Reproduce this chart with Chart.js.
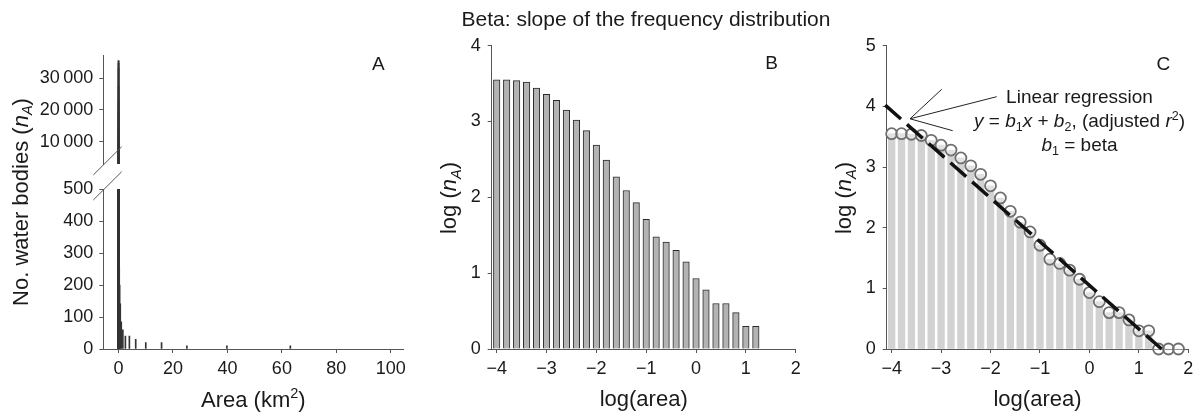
<!DOCTYPE html>
<html><head><meta charset="utf-8">
<script src="https://cdn.jsdelivr.net/npm/chart.js@4.4.1/dist/chart.umd.min.js"></script>
<style>
html,body{margin:0;padding:0;background:#fff;width:1200px;height:413px;overflow:hidden}
canvas{position:absolute;left:0;top:0}
</style></head><body>
<canvas id="cAU" width="1200" height="413"></canvas>
<canvas id="cAL" width="1200" height="413"></canvas>
<canvas id="cB" width="1200" height="413"></canvas>
<canvas id="cC" width="1200" height="413"></canvas>
<script>
// ---------- DATA ----------
// Panel A: water body area (km2) and number of water bodies
const areaA  = [0.0001,0.00016,0.00025,0.0004,0.00063,0.001,0.0016,0.0025,0.004,0.0063,0.01,0.016,0.025,0.04,0.063,0.1,0.16,0.25,0.4,0.63,1.0,1.58,2.51,3.98,6.31,10.0,15.8,25.1,39.8,63.1];
const countA = [35500,35500,34700,33100,27500,22900,19100,14100,10500,7600,4900,3100,1860,1230,850,513,302,257,200,141,85,60,40,40,30,20,20,10,10,10];
// Panel B: log(area) bins and log(nA)
const bLogArea  = [-4.0,-3.8,-3.6,-3.4,-3.2,-3.0,-2.8,-2.6,-2.4,-2.2,-2.0,-1.8,-1.6,-1.4,-1.2,-1.0,-0.8,-0.6,-0.4,-0.2,0.0,0.2,0.4,0.6,0.8,1.0,1.2];
const bLogCount = [3.55,3.55,3.54,3.52,3.44,3.36,3.28,3.15,3.02,2.88,2.69,2.49,2.27,2.09,1.93,1.71,1.48,1.41,1.30,1.15,0.93,0.78,0.60,0.60,0.48,0.30,0.30];
// Panel C: same bins incl. empty bins, and regression line end points
const cLogArea  = [-4.0,-3.8,-3.6,-3.4,-3.2,-3.0,-2.8,-2.6,-2.4,-2.2,-2.0,-1.8,-1.6,-1.4,-1.2,-1.0,-0.8,-0.6,-0.4,-0.2,0.0,0.2,0.4,0.6,0.8,1.0,1.2,1.4,1.6,1.8];
const cLogCount = [3.55,3.55,3.54,3.52,3.44,3.36,3.28,3.15,3.02,2.88,2.69,2.49,2.27,2.09,1.93,1.71,1.48,1.41,1.30,1.15,0.93,0.78,0.60,0.60,0.48,0.30,0.30,0,0,0];
const regLogArea  = [-4.13, 1.46];
const regLogCount = [4.02, 0.0];
// Tick values
const aXTicks    = [0,20,40,60,80,100];
const aLowTicks  = [0,100,200,300,400,500];
const aHighTicks = [10000,20000,30000];
const logAreaTicks = [-4,-3,-2,-1,0,1,2];
const bYTicks = [0,1,2,3,4];
const cYTicks = [0,1,2,3,4,5];

// ---------- STYLE ----------
const FF = '"Liberation Sans", Arial, Helvetica, sans-serif';
const AX = '#555';
const TXT = '#1a1a1a';
const TICK_SIZE = 18;

const minus = v => (v < 0 ? '\u2212' + Math.abs(v) : String(v));
const thousands = v => (v >= 1000 ? Math.floor(v/1000) + '\u2009' + String(v % 1000).padStart(3,'0') : String(v));

function pts(xs, ys){ return xs.map((x,i)=>({x:x, y:ys[i]})); }

function xScale(min, max, ticks, fmt, show){
  return {
    type:'linear', min:min, max:max, offset:false, display: show,
    afterBuildTicks: s => { s.ticks = ticks.map(v=>({value:v})); },
    afterFit: s => { s.height = show ? 40 : 0; },
    grid:{display:true, drawOnChartArea:false, drawTicks:true, tickLength:4, color:AX, offset:false, lineWidth:1},
    border:{display:true, color:AX, width:1},
    ticks:{font:{family:FF, size:TICK_SIZE}, color:TXT, padding:5, maxRotation:0, autoSkip:false, callback: v => fmt(v)}
  };
}
function yScale(min, max, ticks, fmt, pad, w){
  return {
    type:'linear', min:min, max:max,
    afterBuildTicks: s => { s.ticks = ticks.map(v=>({value:v})); },
    afterFit: s => { s.width = w; },
    grid:{display:true, drawOnChartArea:false, drawTicks:true, tickLength:4, color:AX, lineWidth:1},
    border:{display:true, color:AX, width:1},
    ticks:{font:{family:FF, size:TICK_SIZE}, color:TXT, padding:pad, autoSkip:false, callback: v => fmt(v)}
  };
}
function baseOpts(padding, scales){
  return {
    responsive:false, animation:false, devicePixelRatio:1, events:[],
    layout:{padding:padding},
    plugins:{legend:{display:false}, tooltip:{enabled:false}, title:{display:false}},
    scales:scales
  };
}

// rich text: parts = [{t, i, sub, sup}]
function drawRich(ctx, parts, x, y, size, align, rot){
  ctx.save();
  ctx.translate(x, y);
  if (rot) ctx.rotate(rot);
  const fontFor = p => (p.i ? 'italic ' : '') + ((p.sub||p.sup) ? size*0.66 : size) + 'px ' + FF;
  let total = 0;
  parts.forEach(p => { ctx.font = fontFor(p); total += ctx.measureText(p.t).width; });
  let cx = align === 'center' ? -total/2 : (align === 'right' ? -total : 0);
  ctx.textBaseline = 'alphabetic'; ctx.textAlign = 'left'; ctx.fillStyle = TXT;
  parts.forEach(p => {
    ctx.font = fontFor(p);
    const dy = p.sub ? size*0.22 : (p.sup ? -size*0.38 : 0);
    ctx.fillText(p.t, cx, dy);
    cx += ctx.measureText(p.t).width;
  });
  ctx.restore();
}
const nA = [{t:'n', i:true},{t:'A', i:true, sub:true}];

// ---------- PANEL A (upper, broken axis) ----------
new Chart(document.getElementById('cAU'), {
  type:'bar',
  data:{datasets:[{data:pts(areaA, countA), backgroundColor:'#333', borderWidth:0, barThickness:1, clip:0}]},
  options: baseOpts({left:23.3, right:796.7, top:55, bottom:249}, {
    x: xScale(-5.6, 104.6, aXTicks, minus, false),
    y: yScale(2965, 37350, aHighTicks, thousands, 6, 80)
  })
});

// ---------- PANEL A (lower) ----------
new Chart(document.getElementById('cAL'), {
  type:'bar',
  data:{datasets:[{data:pts(areaA, countA), backgroundColor:'#333', borderWidth:0, barThickness:1, clip:0}]},
  options: baseOpts({left:23.3, right:796.7, top:189, bottom:24}, {
    x: xScale(-5.6, 104.6, aXTicks, minus, true),
    y: yScale(0, 500, aLowTicks, thousands, 6, 80)
  }),
  plugins:[{id:'annA', afterDraw(chart){
    const ctx = chart.ctx;
    // axis break marks
    ctx.save(); ctx.strokeStyle = AX; ctx.lineWidth = 1;
    ctx.beginPath(); ctx.moveTo(93.3,175); ctx.lineTo(121.7,146.7); ctx.stroke();
    ctx.beginPath(); ctx.moveTo(93.3,200); ctx.lineTo(121.7,171.7); ctx.stroke();
    ctx.restore();
    drawRich(ctx, [{t:'No. water bodies ('}, ...nA, {t:')'}], 27.5, 202, 22, 'center', -Math.PI/2);
    drawRich(ctx, [{t:'Area (km'},{t:'2', sup:true},{t:')'}], 253.3, 406.5, 22, 'center');
    drawRich(ctx, [{t:'A'}], 378.3, 70, 19, 'center');
  }}]
});

// ---------- PANEL B ----------
new Chart(document.getElementById('cB'), {
  type:'bar',
  data:{datasets:[{data:pts(bLogArea, bLogCount), backgroundColor:'#b3b3b3', borderColor:'#2b2b2b', borderWidth:1, barThickness:6.5}]},
  options: baseOpts({left:431.7, right:404.3, top:45.7, bottom:24}, {
    x: xScale(-4.1, 2, logAreaTicks, minus, true),
    y: yScale(0, 4, bYTicks, minus, 7, 60)
  }),
  plugins:[{id:'annB', afterDraw(chart){
    const ctx = chart.ctx;
    drawRich(ctx, [{t:'Beta: slope of the frequency distribution'}], 646, 26, 21, 'center');
    drawRich(ctx, [{t:'log ('}, ...nA, {t:')'}], 456, 198, 22, 'center', -Math.PI/2);
    drawRich(ctx, [{t:'log(area)'}], 643.7, 405.5, 22, 'center');
    drawRich(ctx, [{t:'B'}], 771.7, 68.5, 19, 'center');
  }}]
});

// ---------- PANEL C ----------
new Chart(document.getElementById('cC'), {
  type:'bar',
  data:{datasets:[
    {type:'line', data:pts(regLogArea, regLogCount), borderColor:'#111', borderWidth:3.5, borderDash:[21,8], borderCapStyle:'butt', pointRadius:0, fill:false, tension:0, clip:false, order:1},
    {type:'line', data:pts(cLogArea, cLogCount), showLine:false, pointRadius:5.5, pointBorderWidth:1.8, pointBorderColor:'#6e6e6e', pointBackgroundColor:'rgba(255,255,255,0.35)', clip:false, order:2},
    {type:'bar', data:pts(cLogArea, cLogCount), backgroundColor:'#d2d2d2', borderWidth:0, barThickness:6.7, order:3}
  ]},
  options: baseOpts({left:826.7, right:11.7, top:45.7, bottom:24}, {
    x: xScale(-4.1, 2, logAreaTicks, minus, true),
    y: yScale(0, 5, cYTicks, minus, 7, 60)
  }),
  plugins:[{id:'annC', afterDraw(chart){
    const ctx = chart.ctx;
    drawRich(ctx, [{t:'log ('}, ...nA, {t:')'}], 851.3, 198, 22, 'center', -Math.PI/2);
    drawRich(ctx, [{t:'log(area)'}], 1037.5, 405.5, 22, 'center');
    drawRich(ctx, [{t:'C'}], 1163.3, 70, 19, 'center');
    // pointer lines
    ctx.save(); ctx.strokeStyle = '#222'; ctx.lineWidth = 1;
    [[941.7,89.3],[996.7,96.7],[952.7,130.7]].forEach(e => {
      ctx.beginPath(); ctx.moveTo(910,118.8); ctx.lineTo(e[0], e[1]); ctx.stroke();
    });
    ctx.restore();
    drawRich(ctx, [{t:'Linear regression'}], 1079.5, 103.3, 19, 'center');
    drawRich(ctx, [{t:'y', i:true},{t:' = '},{t:'b', i:true},{t:'1', sub:true},{t:'x', i:true},{t:' + '},{t:'b', i:true},{t:'2', sub:true},{t:', (adjusted '},{t:'r', i:true},{t:'2', sup:true},{t:')'}], 1079.5, 127, 19, 'center');
    drawRich(ctx, [{t:'b', i:true},{t:'1', sub:true},{t:' = beta'}], 1079.5, 151, 19, 'center');
  }}]
});
</script>
</body></html>
